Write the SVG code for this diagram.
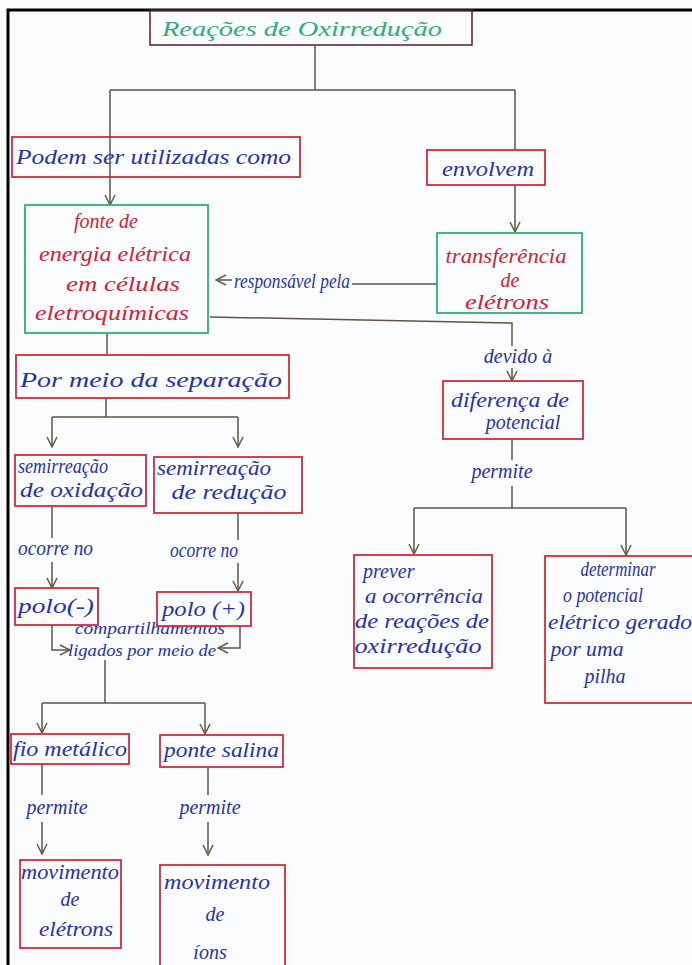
<svg xmlns="http://www.w3.org/2000/svg" width="692" height="965" viewBox="0 0 692 965">
<style>
  .bg{fill:#fbfcfd}
  .frame{stroke:#000;stroke-width:3;fill:none}
  .rbox{fill:none;stroke:#d42a3c;stroke-width:1.8}
  .gbox{fill:none;stroke:#2bb275;stroke-width:1.8}
  .tbox{fill:none;stroke:#5a1e22;stroke-width:1.5}
  .con{fill:none;stroke:#5e5446;stroke-width:1.5}
  .arr{marker-end:url(#chev)}
  text{font-family:"Liberation Serif","DejaVu Serif",serif;font-style:italic;font-size:20px}
  .b{fill:#2632a8}
  .r{fill:#d42038}
  .g{fill:#2fae78}
  .m{text-anchor:middle}
  .s{font-size:17px}
</style>
<defs>
  <marker id="chev" viewBox="0 0 12 12" refX="11" refY="6" markerWidth="12" markerHeight="12" markerUnits="userSpaceOnUse" orient="auto">
    <path d="M1,1 L11,6 L1,11" fill="none" stroke="#6a5a3c" stroke-width="1.5"/>
  </marker>
</defs>
<rect class="bg" x="0" y="0" width="692" height="965"/>
<path class="frame" d="M8,965 V10 H692"/>

<g id="connectors">
  <path class="con" d="M315,45 V90"/>
  <path class="con" d="M110,90 H515"/>
  <path class="con arr" d="M110,90 V205"/>
  <path class="con" d="M515,90 V150"/>
  <path class="con arr" d="M515,185 V232"/>
  <path class="con" d="M437,284 H352"/>
  <path class="con arr" d="M232,280 H216"/>
  <path class="con" d="M210,317 L512,323 V346"/>
  <path class="con arr" d="M512,368 V381"/>
  <path class="con" d="M107,333 V355"/>
  <path class="con" d="M106,398 V417 M52,417 H238"/>
  <path class="con arr" d="M52,417 V447"/>
  <path class="con arr" d="M238,417 V447"/>
  <path class="con" d="M512,439 V460 M512,486 V508 M414,508 H626"/>
  <path class="con arr" d="M414,508 V554"/>
  <path class="con arr" d="M626,508 V555"/>
  <path class="con" d="M52,506 V538"/>
  <path class="con arr" d="M52,562 V588"/>
  <path class="con" d="M238,513 V540"/>
  <path class="con arr" d="M238,563 V591"/>
  <path class="con arr" d="M52,625 V650 H70"/>
  <path class="con arr" d="M240,626 V648 H218"/>
  <path class="con" d="M105,660 V703 M42,703 H205"/>
  <path class="con arr" d="M42,703 V733"/>
  <path class="con arr" d="M205,703 V734"/>
  <path class="con" d="M42,764 V795"/>
  <path class="con arr" d="M42,822 V854"/>
  <path class="con" d="M208,767 V795"/>
  <path class="con arr" d="M208,822 V855"/>
  <text class="b" x="234" y="288" textLength="116" lengthAdjust="spacingAndGlyphs">responsável pela</text>
  <text class="b m" x="518" y="363">devido à</text>
  <text class="b m" x="502" y="478">permite</text>
  <text class="b" x="18" y="555" textLength="75" lengthAdjust="spacingAndGlyphs">ocorre no</text>
  <text class="b" x="170" y="557" textLength="68" lengthAdjust="spacingAndGlyphs">ocorre no</text>
  <text class="b m s" x="150" y="634" textLength="150" lengthAdjust="spacingAndGlyphs">compartilhamentos</text>
  <text class="b m s" x="142" y="656" textLength="148" lengthAdjust="spacingAndGlyphs">ligados por meio de</text>
  <text class="b m" x="57" y="814">permite</text>
  <text class="b m" x="210" y="814">permite</text>
</g>

<g id="title">
  <rect class="tbox" x="150" y="10" width="322" height="35"/>
  <text class="g" x="162" y="36" textLength="280" lengthAdjust="spacingAndGlyphs" style="font-size:22px">Reações de Oxirredução</text>
</g>
<g id="podem">
  <rect class="rbox" x="12" y="137" width="288" height="40"/>
  <text class="b" x="16" y="164" textLength="275" lengthAdjust="spacingAndGlyphs" style="font-size:22px">Podem ser utilizadas como</text>
</g>
<g id="envolvem">
  <rect class="rbox" x="427" y="150" width="118" height="35"/>
  <text class="b m" x="488" y="176" textLength="92" lengthAdjust="spacingAndGlyphs">envolvem</text>
</g>
<g id="fonte">
  <rect class="gbox" x="25" y="205" width="183" height="128"/>
  <text class="r m" x="106" y="228">fonte de</text>
  <text class="r m" x="115" y="261" textLength="152" lengthAdjust="spacingAndGlyphs">energia elétrica</text>
  <text class="r m" x="123" y="291" textLength="114" lengthAdjust="spacingAndGlyphs">em células</text>
  <text class="r m" x="112" y="320" textLength="154" lengthAdjust="spacingAndGlyphs">eletroquímicas</text>
</g>
<g id="transferencia">
  <rect class="gbox" x="437" y="233" width="145" height="80"/>
  <text class="r m" x="506" y="263" textLength="121" lengthAdjust="spacingAndGlyphs">transferência</text>
  <text class="r m" x="510" y="287">de</text>
  <text class="r m" x="507" y="309" textLength="84" lengthAdjust="spacingAndGlyphs">elétrons</text>
</g>
<g id="separacao">
  <rect class="rbox" x="16" y="355" width="273" height="43"/>
  <text class="b" x="20" y="387" textLength="262" lengthAdjust="spacingAndGlyphs" style="font-size:22px">Por meio da separação</text>
</g>
<g id="diferenca">
  <rect class="rbox" x="443" y="381" width="140" height="58"/>
  <text class="b m" x="510" y="407" textLength="118" lengthAdjust="spacingAndGlyphs">diferença de</text>
  <text class="b m" x="523" y="429">potencial</text>
</g>
<g id="oxidacao">
  <rect class="rbox" x="15" y="455" width="131" height="51"/>
  <text class="b" x="18" y="473" textLength="90" lengthAdjust="spacingAndGlyphs">semirreação</text>
  <text class="b" x="20" y="497" textLength="123" lengthAdjust="spacingAndGlyphs">de oxidação</text>
</g>
<g id="reducao">
  <rect class="rbox" x="154" y="457" width="148" height="56"/>
  <text class="b m" x="214" y="475" textLength="114" lengthAdjust="spacingAndGlyphs">semirreação</text>
  <text class="b m" x="229" y="499" textLength="115" lengthAdjust="spacingAndGlyphs">de redução</text>
</g>
<g id="prever">
  <rect class="rbox" x="354" y="555" width="138" height="113"/>
  <text class="b" x="363" y="578">prever</text>
  <text class="b m" x="424" y="603" textLength="118" lengthAdjust="spacingAndGlyphs">a ocorrência</text>
  <text class="b m" x="422" y="628" textLength="134" lengthAdjust="spacingAndGlyphs">de reações de</text>
  <text class="b m" x="418" y="653" textLength="127" lengthAdjust="spacingAndGlyphs">oxirredução</text>
</g>
<g id="determinar">
  <rect class="rbox" x="545" y="556" width="150" height="147"/>
  <text class="b m" x="618" y="576" textLength="75" lengthAdjust="spacingAndGlyphs">determinar</text>
  <text class="b m" x="603" y="602" textLength="80" lengthAdjust="spacingAndGlyphs">o potencial</text>
  <text class="b m" x="620" y="629" textLength="144" lengthAdjust="spacingAndGlyphs">elétrico gerado</text>
  <text class="b m" x="587" y="656" textLength="73" lengthAdjust="spacingAndGlyphs">por uma</text>
  <text class="b m" x="605" y="683">pilha</text>
</g>
<g id="polo-neg">
  <rect class="rbox" x="15" y="588" width="83" height="37"/>
  <text class="b" x="18" y="613" textLength="76" lengthAdjust="spacingAndGlyphs">polo(-)</text>
</g>
<g id="polo-pos">
  <rect class="rbox" x="157" y="592" width="94" height="34"/>
  <text class="b" x="162" y="616" textLength="83" lengthAdjust="spacingAndGlyphs">polo (+)</text>
</g>
<g id="fio">
  <rect class="rbox" x="11" y="734" width="118" height="30"/>
  <text class="b" x="13" y="756" textLength="114" lengthAdjust="spacingAndGlyphs">fio metálico</text>
</g>
<g id="ponte">
  <rect class="rbox" x="160" y="735" width="123" height="32"/>
  <text class="b" x="164" y="757" textLength="115" lengthAdjust="spacingAndGlyphs">ponte salina</text>
</g>
<g id="mov-eletrons">
  <rect class="rbox" x="20" y="860" width="101" height="88"/>
  <text class="b m" x="70" y="879" textLength="98" lengthAdjust="spacingAndGlyphs">movimento</text>
  <text class="b m" x="70" y="906">de</text>
  <text class="b m" x="76" y="936" textLength="74" lengthAdjust="spacingAndGlyphs">elétrons</text>
</g>
<g id="mov-ions">
  <rect class="rbox" x="160" y="865" width="125" height="110"/>
  <text class="b m" x="217" y="889" textLength="106" lengthAdjust="spacingAndGlyphs">movimento</text>
  <text class="b m" x="215" y="921">de</text>
  <text class="b m" x="210" y="959">íons</text>
</g>
</svg>
